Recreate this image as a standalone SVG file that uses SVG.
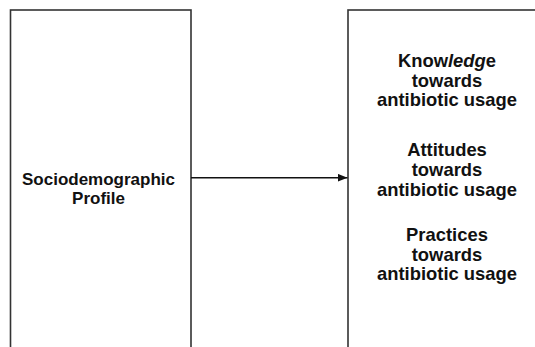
<svg xmlns="http://www.w3.org/2000/svg" width="535" height="347" viewBox="0 0 535 347">
<style>
.box{fill:none;stroke:#333;stroke-width:1.6}
.t{font-family:"Liberation Sans",Arial,sans-serif;font-weight:bold;font-size:17px;fill:#111;text-anchor:middle}
.r{font-size:18.4px}
.edge{stroke:#111;stroke-width:1.4;fill:none}
</style>
<defs>
<marker id="ah" markerWidth="10" markerHeight="8" refX="10" refY="4" orient="auto" markerUnits="userSpaceOnUse">
<polygon points="0,0 10,4 0,8" fill="#111"/>
</marker>
</defs>
<rect width="535" height="347" fill="#fff"/>
<g id="node-profile">
<rect class="box" x="10.5" y="10" width="180.5" height="400"/>
<text class="t" x="98.5" y="184.5">Sociodemographic</text>
<text class="t" x="98.5" y="204">Profile</text>
</g>
<g id="node-kap">
<rect class="box" x="348" y="10" width="220" height="400"/>
<text class="t r" x="447" y="67">Know<tspan font-style="italic">ledg</tspan>e</text>
<text class="t r" x="447" y="86.5">towards</text>
<text class="t r" x="447" y="106">antibiotic usage</text>
<text class="t r" x="447" y="156">Attitudes</text>
<text class="t r" x="447" y="175.5">towards</text>
<text class="t r" x="447" y="195.5">antibiotic usage</text>
<text class="t r" x="447" y="240.5">Practices</text>
<text class="t r" x="447" y="260.5">towards</text>
<text class="t r" x="447" y="280">antibiotic usage</text>
</g>
<g id="connectors">
<line class="edge" x1="191" y1="177.7" x2="347.5" y2="177.7" marker-end="url(#ah)"/>
</g>
</svg>
